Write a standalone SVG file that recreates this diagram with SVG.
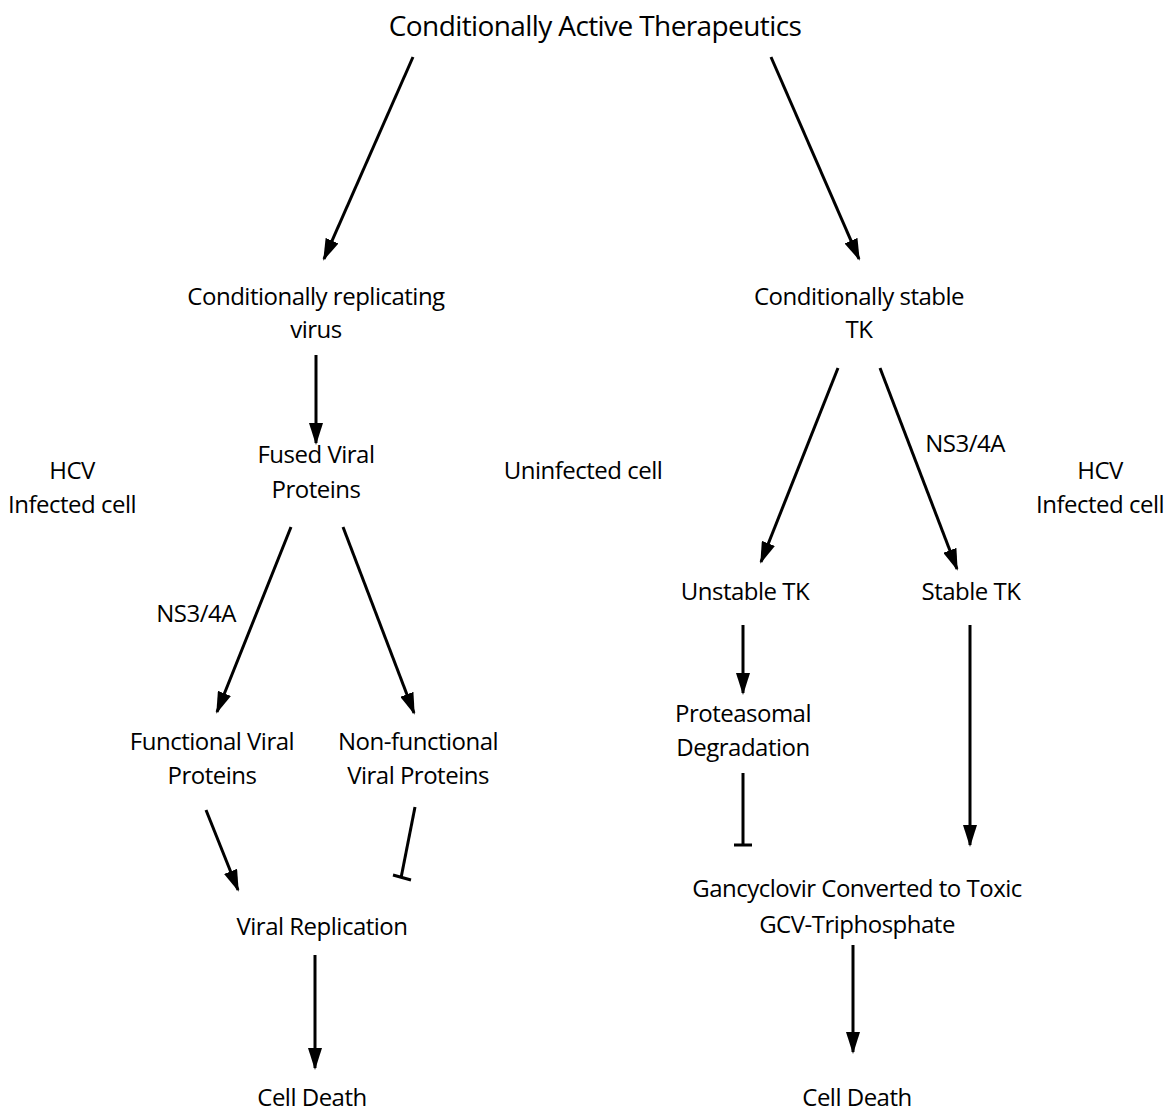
<svg xmlns="http://www.w3.org/2000/svg" width="1171" height="1116" viewBox="0 0 1171 1116">
<style>
text{font-family:"Open Sans","Noto Sans",sans-serif;fill:#000;text-anchor:middle;font-size:24px;letter-spacing:-0.5px}
.t{font-size:28px;letter-spacing:-0.6px}
.c line{stroke:#000;stroke-width:3}
.a{marker-end:url(#ah)}
</style>
<defs>
<marker id="ah" markerUnits="userSpaceOnUse" markerWidth="22" markerHeight="14" viewBox="0 0 22 14" refX="20" refY="7" orient="auto">
<path d="M0,0 L22,7 L0,14 Z" fill="#000"/>
</marker>
</defs>
<rect width="1171" height="1116" fill="#fff"/>
<g id="title"><text class="t" x="595" y="36">Conditionally Active Therapeutics</text></g>
<g id="crv"><text x="316" y="305">Conditionally replicating</text><text x="316" y="338">virus</text></g>
<g id="cst"><text x="859" y="305">Conditionally stable</text><text x="859" y="338">TK</text></g>
<g id="fvp"><text x="316" y="463">Fused Viral</text><text x="316" y="498">Proteins</text></g>
<g id="hcv1"><text x="72" y="479">HCV</text><text x="72" y="513">Infected cell</text></g>
<g id="unc"><text x="583" y="479">Uninfected cell</text></g>
<g id="hcv2"><text x="1100" y="479">HCV</text><text x="1100" y="513">Infected cell</text></g>
<g id="ns1"><text x="196" y="622">NS3/4A</text></g>
<g id="ns2"><text x="965" y="452">NS3/4A</text></g>
<g id="utk"><text x="745" y="600">Unstable TK</text></g>
<g id="stk"><text x="971" y="600">Stable TK</text></g>
<g id="pd"><text x="743" y="722">Proteasomal</text><text x="743" y="756">Degradation</text></g>
<g id="func"><text x="212" y="750">Functional Viral</text><text x="212" y="784">Proteins</text></g>
<g id="nonf"><text x="418" y="750">Non-functional</text><text x="418" y="784">Viral Proteins</text></g>
<g id="vr"><text x="322" y="935">Viral Replication</text></g>
<g id="gcv"><text x="857" y="897">Gancyclovir Converted to Toxic</text><text x="857" y="933">GCV-Triphosphate</text></g>
<g id="cd1"><text x="312" y="1106">Cell Death</text></g>
<g id="cd2"><text x="857" y="1106">Cell Death</text></g>
<g id="connectors" class="c">
<line class="a" x1="413" y1="57" x2="324" y2="259"/>
<line class="a" x1="771" y1="57" x2="859" y2="259"/>
<line class="a" x1="316" y1="355" x2="316" y2="443"/>
<line class="a" x1="291" y1="527" x2="217" y2="712"/>
<line class="a" x1="343" y1="527" x2="414" y2="713"/>
<line class="a" x1="206" y1="810" x2="238" y2="890"/>
<line x1="415" y1="807" x2="401" y2="878"/>
<line x1="393" y1="875" x2="411" y2="880"/>
<line class="a" x1="315" y1="955" x2="315" y2="1068"/>
<line class="a" x1="838" y1="368" x2="761" y2="562"/>
<line class="a" x1="880" y1="368" x2="957" y2="569"/>
<line class="a" x1="743" y1="625" x2="743" y2="693"/>
<line x1="743" y1="773" x2="743" y2="845"/>
<line x1="734" y1="845" x2="752" y2="845"/>
<line class="a" x1="970" y1="625" x2="970" y2="845"/>
<line class="a" x1="853" y1="945" x2="853" y2="1052"/>
</g>
</svg>
